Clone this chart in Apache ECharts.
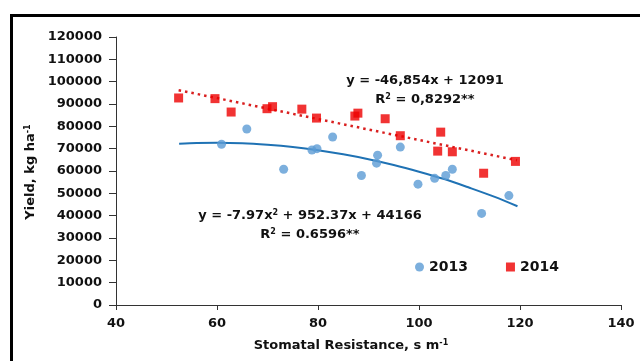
<!DOCTYPE html>
<html><head><meta charset="utf-8">
<script src="https://cdn.jsdelivr.net/npm/echarts@6/dist/echarts.min.js"></script>
<style>html,body{margin:0;padding:0;background:#fff}#c{width:640px;height:361px}</style>
</head><body><div id="c"></div>
<script>
// Data
const x2013 = [60.9, 65.9, 73.2, 78.8, 79.8, 82.9, 88.6, 91.8, 91.6, 96.3, 99.8, 103.1, 105.3, 106.6, 112.4, 117.8];
const y2013 = [72000, 78800, 60800, 69400, 70000, 75200, 58000, 67100, 63500, 70700, 54100, 56700, 58000, 60800, 41000, 49000];
const x2014 = [52.4, 59.6, 62.8, 69.9, 71.0, 76.8, 79.7, 87.3, 87.9, 93.3, 96.3, 104.3, 103.7, 106.6, 112.8, 119.1];
const y2014 = [92700, 92400, 86400, 87900, 88800, 87700, 83700, 84600, 85900, 83400, 75800, 77400, 68900, 68600, 59000, 64300];
// Trend lines
const trend2013X = [52.5, 56, 60, 65, 70, 75, 80, 85, 90, 95, 100, 105, 110, 115, 119.5];
const trend2013Y = [72200, 72500, 72600, 72400, 71700, 70700, 69300, 67500, 65300, 62700, 59700, 56400, 52500, 48400, 44200];
const trend2014X = [52.4, 119.4];
const trend2014Y = [96200, 64800];
const xTicks = [40, 60, 80, 100, 120, 140];
const yTicks = [0, 10000, 20000, 30000, 40000, 50000, 60000, 70000, 80000, 90000, 100000, 110000, 120000];

const pairs = (xs, ys) => xs.map((v, i) => [v, ys[i]]);
const FONT = 'DejaVu Sans';
const chart = echarts.init(document.getElementById('c'));
chart.setOption({
  backgroundColor: '#fff',
  animation: false,
  grid: { left: 116, right: 19, top: 37, bottom: 56 },
  xAxis: {
    type: 'value', min: xTicks[0], max: xTicks[xTicks.length - 1], interval: 20,
    splitLine: { show: false },
    axisLine: { lineStyle: { color: '#333', width: 1 } },
    axisTick: { show: true, length: 5, lineStyle: { color: '#333' } },
    axisLabel: { color: '#111', fontFamily: FONT, fontWeight: 'bold', fontSize: 13, margin: 12, formatter: v => String(v) }
  },
  yAxis: {
    type: 'value', min: yTicks[0], max: yTicks[yTicks.length - 1], interval: 10000,
    splitLine: { show: false },
    axisLine: { show: true, lineStyle: { color: '#333', width: 1 } },
    axisTick: { show: true, length: 7, lineStyle: { color: '#333' } },
    axisLabel: { color: '#111', fontFamily: FONT, fontWeight: 'bold', fontSize: 13, margin: 14, formatter: v => String(v) }
  },
  legend: {
    data: [{ name: '2013', icon: 'circle' }, { name: '2014', icon: 'rect' }],
    left: 410, top: 255, itemWidth: 9, itemHeight: 9, itemGap: 38,
    textStyle: { color: '#111', fontFamily: FONT, fontWeight: 'bold', fontSize: 14 }
  },
  series: [
    { name: '2013', type: 'scatter', symbol: 'circle', symbolSize: 9, itemStyle: { color: '#5b9bd5' }, data: pairs(x2013, y2013), z: 3 },
    { name: '2014', type: 'scatter', symbol: 'rect', symbolSize: 9, itemStyle: { color: '#ee0000' }, data: pairs(x2014, y2014), z: 3 },
    { name: 't2013', type: 'line', smooth: 0.3, symbol: 'none', lineStyle: { color: '#1f72b4', width: 2 }, data: pairs(trend2013X, trend2013Y), z: 2 },
    { name: 't2014', type: 'line', symbol: 'none', lineStyle: { color: '#d91f1f', width: 2.5, type: [2.5, 4] }, data: pairs(trend2014X, trend2014Y), z: 2 }
  ],
  graphic: [
    { type: 'rect', shape: { x: 11.5, y: 15.5, width: 800, height: 500 }, style: { fill: null, stroke: '#000', lineWidth: 3 }, silent: true },
    { type: 'text', x: 31, y: 172, rotation: Math.PI / 2, style: {
        text: '{n|Yield, kg ha}{s|-1}', align: 'center', verticalAlign: 'middle',
        rich: { n: { fontFamily: FONT, fontWeight: 'bold', fontSize: 13, fill: '#111' },
                s: { fontFamily: FONT, fontWeight: 'bold', fontSize: 8, fill: '#111', verticalAlign: 'top', padding: [0, 0, 6, 0] } } } },
    { type: 'text', x: 351, y: 346, style: {
        text: '{n|Stomatal Resistance, s m}{s|-1}', align: 'center', verticalAlign: 'middle',
        rich: { n: { fontFamily: FONT, fontWeight: 'bold', fontSize: 13, fill: '#111' },
                s: { fontFamily: FONT, fontWeight: 'bold', fontSize: 8, fill: '#111', padding: [0, 0, 7, 0] } } } },
    { type: 'text', x: 425, y: 81, style: { text: 'y = -46,854x + 12091', align: 'center', verticalAlign: 'middle', fontFamily: FONT, fontWeight: 'bold', fontSize: 13, fill: '#111' } },
    { type: 'text', x: 425, y: 100, style: {
        text: '{n|R}{s|2}{n| = 0,8292**}', align: 'center', verticalAlign: 'middle',
        rich: { n: { fontFamily: FONT, fontWeight: 'bold', fontSize: 13, fill: '#111' },
                s: { fontFamily: FONT, fontWeight: 'bold', fontSize: 8, fill: '#111', padding: [0, 0, 7, 0] } } } },
    { type: 'text', x: 310, y: 216, style: {
        text: '{n|y = -7.97x}{s|2}{n| + 952.37x + 44166}', align: 'center', verticalAlign: 'middle',
        rich: { n: { fontFamily: FONT, fontWeight: 'bold', fontSize: 13, fill: '#111' },
                s: { fontFamily: FONT, fontWeight: 'bold', fontSize: 8, fill: '#111', padding: [0, 0, 7, 0] } } } },
    { type: 'text', x: 310, y: 235, style: {
        text: '{n|R}{s|2}{n| = 0.6596**}', align: 'center', verticalAlign: 'middle',
        rich: { n: { fontFamily: FONT, fontWeight: 'bold', fontSize: 13, fill: '#111' },
                s: { fontFamily: FONT, fontWeight: 'bold', fontSize: 8, fill: '#111', padding: [0, 0, 7, 0] } } } }
  ]
});
</script></body></html>
